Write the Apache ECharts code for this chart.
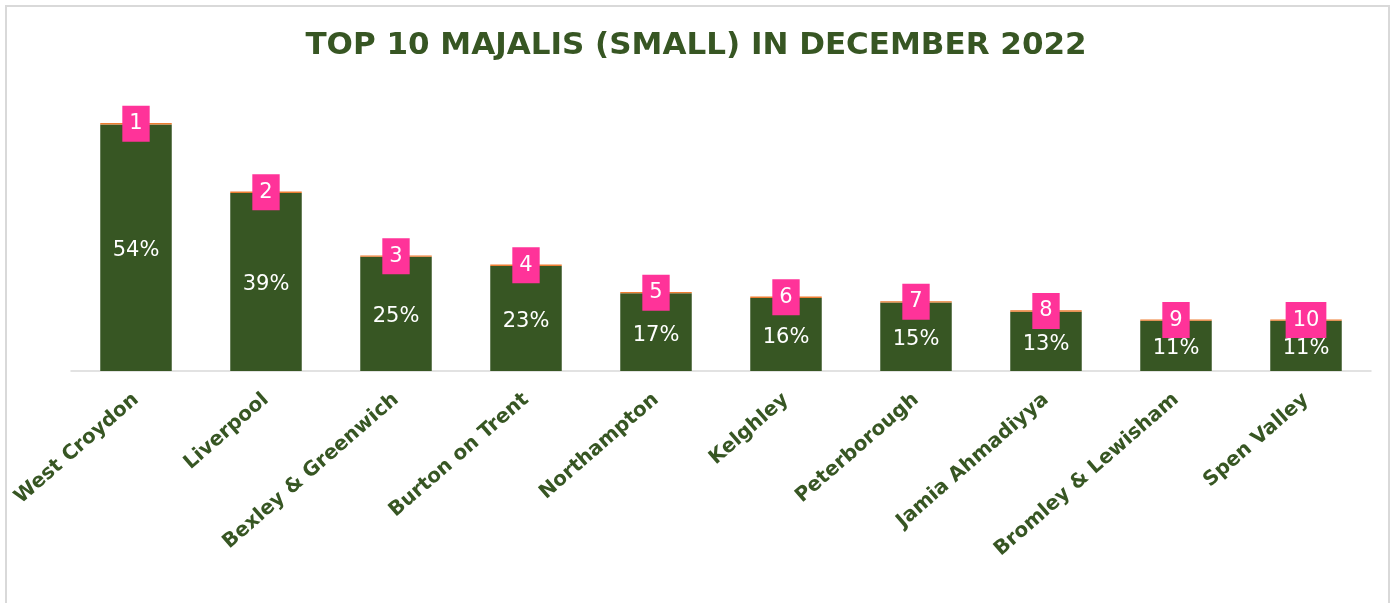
<!DOCTYPE html>
<html>
<head>
<meta charset="utf-8">
<script src="https://cdn.jsdelivr.net/npm/echarts@6/dist/echarts.min.js"></script>
<style>
  html, body { margin: 0; padding: 0; background: #fff; }
  #chart { width: 1392px; height: 603px; }
</style>
</head>
<body>
<div id="chart"></div>
<script>
// data
const majalis = ['West Croydon', 'Liverpool', 'Bexley & Greenwich', 'Burton on Trent', 'Northampton',
  'Kelghley', 'Peterborough', 'Jamia Ahmadiyya', 'Bromley & Lewisham', 'Spen Valley'];
const percent = [54, 39, 25, 23, 17, 16, 15, 13, 11, 11];
const ranks = ['1', '2', '3', '4', '5', '6', '7', '8', '9', '10'];
const topEdge = [0.3, 0.3, 0.3, 0.3, 0.3, 0.3, 0.3, 0.3, 0.3, 0.3];

const green = '#375623';
const pink = '#FF3399';

const chart = echarts.init(document.getElementById('chart'));
chart.setOption({
  backgroundColor: '#fff',
  animation: false,
  title: {
    text: 'TOP 10 MAJALIS (SMALL) IN DECEMBER 2022',
    left: 'center',
    top: 25,
    textStyle: { color: green, fontFamily: 'DejaVu Sans', fontWeight: 'bold', fontSize: 31 }
  },
  graphic: [{
    type: 'rect',
    shape: { x: 6, y: 6, width: 1383, height: 640 },
    style: { fill: 'none', stroke: '#d9d9d9', lineWidth: 2 },
    silent: true
  }],
  grid: { left: 71, right: 21, top: 97, bottom: 232 },
  xAxis: {
    type: 'category',
    data: majalis,
    axisTick: { show: false },
    axisLine: { lineStyle: { color: '#d9d9d9', width: 1.5 } },
    axisLabel: {
      interval: 0,
      rotate: 41,
      margin: 26,
      color: green,
      fontFamily: 'DejaVu Sans',
      fontWeight: 'bold',
      fontSize: 20
    }
  },
  yAxis: { type: 'value', min: 0, max: 60, show: false, splitLine: { show: false } },
  series: [
    {
      type: 'bar',
      stack: 'a',
      data: percent,
      barWidth: '55%',
      itemStyle: { color: green },
      label: {
        show: true,
        position: 'inside',
        offset: [0, 3],
        color: '#fff',
        fontFamily: 'DejaVu Sans',
        fontSize: 21,
        formatter: p => p.value + '%'
      }
    },
    {
      type: 'bar',
      stack: 'a',
      data: topEdge,
      barWidth: '55%',
      itemStyle: { color: '#ED7D31' },
      label: {
        show: true,
        position: 'inside',
        backgroundColor: pink,
        color: '#fff',
        fontFamily: 'DejaVu Sans',
        fontSize: 21,
        lineHeight: 22,
        padding: [8, 7, 6, 7],
        formatter: p => ranks[p.dataIndex]
      }
    }
  ]
});
</script>
</body>
</html>
